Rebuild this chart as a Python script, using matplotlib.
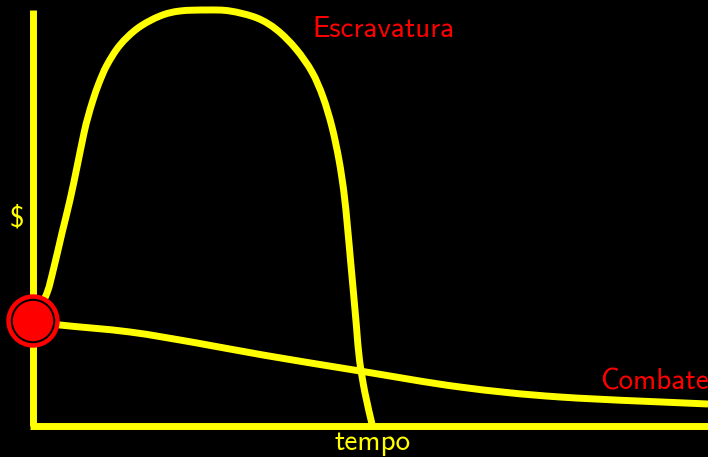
import matplotlib
matplotlib.use("Agg")
import matplotlib.pyplot as plt
from matplotlib.patches import Circle, PathPatch
from matplotlib.path import Path

# Escravatura curve (tempo, $)
escr_t = [3, 14, 21, 29, 37, 44, 51, 55, 60, 66, 74, 87, 105, 127, 147, 174, 197, 224,
          244, 263, 279, 290, 299, 306, 311, 314.5, 317.5, 320.5, 323.5, 326.5, 332, 339]
escr_v = [111, 133, 159, 193, 226, 259, 293, 309, 326, 343, 361, 381, 398, 410, 415, 416, 415, 408,
          396, 377, 354, 329, 299, 266, 233, 199, 166, 133, 99, 66, 33, 2]

# Combate curve (tempo, $)
comb_t = [0, 27, 97, 164, 230, 327, 427, 527, 675]
comb_v = [105, 101, 94, 83, 71, 55, 39, 29, 22]

start_point = (0, 105)

YEL = "#ffff00"
RED = "#ff0000"
FONT = "cmss10"


def smooth_path(xs, ys):
    """Catmull-Rom curve through the given points, as cubic Bezier segments."""
    pts = list(zip(xs, ys))
    verts = [pts[0]]
    codes = [Path.MOVETO]
    n = len(pts)
    for i in range(n - 1):
        p0 = pts[i - 1] if i > 0 else pts[i]
        p1 = pts[i]
        p2 = pts[i + 1]
        p3 = pts[i + 2] if i + 2 < n else pts[i + 1]
        c1 = (p1[0] + (p2[0] - p0[0]) / 6.0, p1[1] + (p2[1] - p0[1]) / 6.0)
        c2 = (p2[0] - (p3[0] - p1[0]) / 6.0, p2[1] - (p3[1] - p1[1]) / 6.0)
        verts += [c1, c2, p2]
        codes += [Path.CURVE4] * 3
    return Path(verts, codes)


fig = plt.figure(figsize=(7.08, 4.57), dpi=100, facecolor="black")
ax = fig.add_axes([0, 0, 1, 1])
ax.set_facecolor("black")
ax.set_xlim(-33, 675)
ax.set_ylim(-31, 426)
ax.axis("off")

# axes lines
ax.plot([0, 0], [0, 416], color=YEL, lw=5, solid_capstyle="butt")
ax.plot([-3, 675], [0, 0], color=YEL, lw=5, solid_capstyle="butt")

for xs, ys in [(escr_t, escr_v), (comb_t, comb_v)]:
    ax.add_patch(PathPatch(smooth_path(xs, ys), facecolor="none", edgecolor=YEL,
                           lw=5, capstyle="butt", joinstyle="round", zorder=3))

ax.add_patch(Circle(start_point, 26, color=RED, zorder=5))
ax.add_patch(Circle(start_point, 21.5, color="black", zorder=6))
ax.add_patch(Circle(start_point, 19.5, color=RED, zorder=7))

ax.text(279, 389, "Escravatura", color=RED, fontname=FONT, fontsize=21, va="baseline", ha="left")
ax.text(567, 37, "Combate", color=RED, fontname=FONT, fontsize=21, va="baseline", ha="left")
ax.text(-16, 207, "$", color=YEL, fontname=FONT, fontsize=21, va="center", ha="center")
ax.text(340, -24, "tempo", color=YEL, fontname=FONT, fontsize=21, va="baseline", ha="center")

fig.savefig("out.png", dpi=100, facecolor="black")
